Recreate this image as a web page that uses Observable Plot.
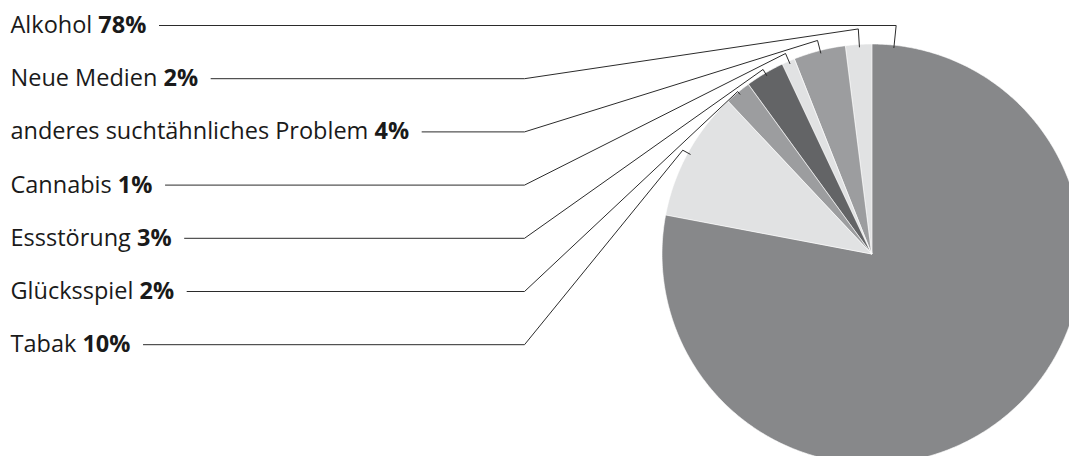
<!DOCTYPE html>
<html><head><meta charset="utf-8">
<script src="https://cdn.jsdelivr.net/npm/d3@7"></script>
<script src="https://cdn.jsdelivr.net/npm/@observablehq/plot@0.6"></script>
<style>body{margin:0;background:#fff}#chart{width:1069px;height:456px;overflow:hidden}</style>
</head><body><div id="chart"></div>
<script>
// ---- data (pie order, clockwise from 12 o'clock) ----
const categories = ["Alkohol", "Tabak", "Glücksspiel", "Essstörung", "Cannabis", "anderes suchtähnliches Problem", "Neue Medien"];
const shares = [78, 10, 2, 3, 1, 4, 2];
// label order from top to bottom
const labelOrder = ["Alkohol", "Neue Medien", "anderes suchtähnliches Problem", "Cannabis", "Essstörung", "Glücksspiel", "Tabak"];
// ---- styles / layout ----
const sliceColors = {"Alkohol": "#87888a", "Tabak": "#e1e2e3", "Glücksspiel": "#9c9d9f", "Essstörung": "#636466", "Cannabis": "#e1e2e3", "anderes suchtähnliches Problem": "#9c9d9f", "Neue Medien": "#e1e2e3"};
const leaderReach = {"Tabak": 6.5, "Glücksspiel": 1.5, "Essstörung": 5, "Cannabis": 9, "anderes suchtähnliches Problem": 11, "Neue Medien": 16};

const W = 1069, H = 456, cx = 872, cy = 254, R = 210;
const FONT = "'Open Sans', sans-serif", FS = 23.5;
const rowTop = 25, rowStep = 53.2, bendX = 524, textX = 10, gap = 13;

const slices = d3.pie().sort(null).value(d => d.share)(categories.map((c, i) => ({category: c, share: shares[i]})));
const pt = (a, r) => [cx + r * Math.sin(a), cy - r * Math.cos(a)];

const wedges = slices.flatMap(p => {
  const n = Math.max(2, Math.ceil((p.endAngle - p.startAngle) / (Math.PI / 360)));
  return d3.range(n + 1).map(k => {
    const a = p.startAngle + (p.endAngle - p.startAngle) * k / n;
    const [x, y] = pt(a, R);
    return {category: p.data.category, x, y};
  });
});

const ctx = document.createElement("canvas").getContext("2d");
const measure = (s, bold) => { ctx.font = `${bold ? "bold " : ""}${FS}px ${FONT}`; return ctx.measureText(s).width; };

const labels = labelOrder.map((name, i) => {
  const share = shares[categories.indexOf(name)];
  const pct = share + "%";
  const y = rowTop + i * rowStep;
  const nameW = measure(name + " ", false);
  const pctW = measure(pct, true);
  return {name, pct, y, pctX: textX + nameW, lineStart: textX + nameW + pctW + gap};
});

const leaders = slices.flatMap(p => {
  const name = p.data.category;
  const lab = labels.find(l => l.name === name);
  const big = p.endAngle - p.startAngle > Math.PI;
  const a = big ? p.startAngle + 0.103 : (p.startAngle + p.endAngle) / 2;
  const pts = [[lab.lineStart, lab.y]];
  let elbow;
  if (big) {
    const r = (cy - lab.y) / Math.cos(a);
    elbow = pt(a, r);
  } else {
    pts.push([bendX, lab.y]);
    elbow = pt(a, R + leaderReach[name]);
  }
  pts.push(elbow, pt(a, R - 2));
  return pts.map(([x, y]) => ({category: name, x, y}));
});

const chart = Plot.plot({
  width: W, height: H, margin: 0,
  style: {fontFamily: FONT, background: "white"},
  x: {domain: [0, W], range: [0, W], axis: null},
  y: {domain: [0, H], range: [0, H], axis: null},
  color: {type: "identity"},
  marks: [
    Plot.area(wedges, {x1: () => cx, y1: () => cy, x2: "x", y2: "y", z: "category", fill: d => sliceColors[d.category], stroke: "white", strokeWidth: 0.6}),
    Plot.line(leaders, {x: "x", y: "y", z: "category", stroke: "#2b2b2b", strokeWidth: 1}),
    Plot.text(labels, {x: () => textX, y: "y", text: "name", textAnchor: "start", fontSize: FS, fill: "#1a1a1a"}),
    Plot.text(labels, {x: "pctX", y: "y", text: "pct", textAnchor: "start", fontSize: FS, fontWeight: "bold", fill: "#1a1a1a"})
  ]
});
document.getElementById("chart").append(chart);
</script>
</body></html>
